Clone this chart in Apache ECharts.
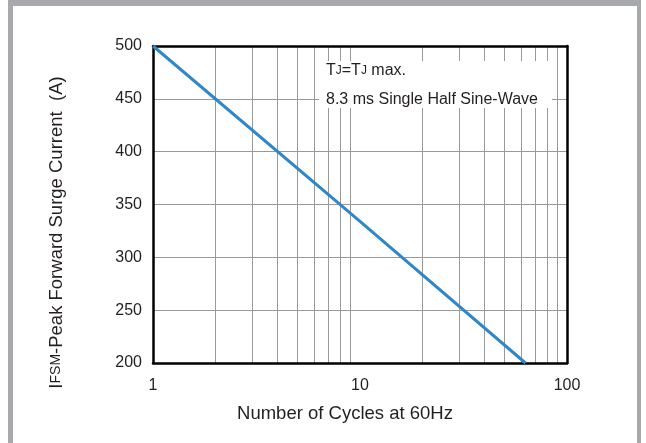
<!DOCTYPE html>
<html>
<head>
<meta charset="utf-8">
<script src="https://cdn.jsdelivr.net/npm/echarts@6/dist/echarts.min.js"></script>
<style>
  html, body { margin: 0; padding: 0; background: #fff; }
  #main { width: 646px; height: 443px; }
</style>
</head>
<body>
<div id="main"></div>
<script>
// surge current vs number of cycles (log x)
var cycles = [1, 10, 63];
var current = [500, 334, 200];
var xTicks = [1, 10, 100];
var yTicks = [200, 250, 300, 350, 400, 450, 500];

var chart = echarts.init(document.getElementById('main'));
var frame = '#a7a9ac';
var ink = '#231f20';

var points = cycles.map(function (c, i) { return [c, current[i]]; });

var option = {
  backgroundColor: '#fff',
  animation: false,
  grid: { left: 153, right: 79, top: 46, bottom: 80 },
  xAxis: [{
    type: 'log',
    logBase: 10,
    min: xTicks[0],
    max: xTicks[xTicks.length - 1],
    axisLine: { show: true, onZero: false, lineStyle: { color: '#000', width: 2.5 } },
    axisTick: { show: false },
    axisLabel: { color: ink, fontSize: 16, fontFamily: 'Liberation Sans', margin: 15 },
    splitLine: { show: false },
    minorTick: { show: false, splitNumber: 9 },
    minorSplitLine: { show: true, lineStyle: { color: '#999', width: 1 } },
    name: 'Number of Cycles at 60Hz',
    nameLocation: 'middle',
    nameGap: 41,
    nameTextStyle: { color: ink, fontSize: 18.5, fontFamily: 'Liberation Sans', padding: [0, 30, 0, 0] }
  }, {
    type: 'log',
    position: 'top',
    min: xTicks[0],
    max: xTicks[xTicks.length - 1],
    axisLine: { show: true, onZero: false, lineStyle: { color: '#000', width: 2.5 } },
    axisTick: { show: false },
    axisLabel: { show: false },
    splitLine: { show: false }
  }],
  yAxis: [{
    type: 'value',
    min: yTicks[0],
    max: yTicks[yTicks.length - 1],
    interval: 50,
    axisLine: { show: true, onZero: false, lineStyle: { color: '#000', width: 2.5 } },
    axisTick: { show: false },
    axisLabel: { color: ink, fontSize: 16, fontFamily: 'Liberation Sans', margin: 11 },
    splitLine: { show: true, showMinLine: false, showMaxLine: false, lineStyle: { color: '#999', width: 1 } },
    name: '{b|I}{s|FSM}{b|-Peak Forward Surge Current  (A)}',
    nameLocation: 'middle',
    nameGap: 87,
    nameRotate: 90,
    nameTextStyle: {
      color: ink,
      fontFamily: 'Liberation Sans',
      padding: [0, 56, 0, 0],
      rich: {
        b: { fontSize: 18.5, color: ink, fontFamily: 'Liberation Sans' },
        s: { fontSize: 14, color: ink, fontFamily: 'Liberation Sans' }
      }
    }
  }, {
    type: 'value',
    position: 'right',
    min: yTicks[0],
    max: yTicks[yTicks.length - 1],
    interval: 50,
    axisLine: { show: true, onZero: false, lineStyle: { color: '#000', width: 2.5 } },
    axisTick: { show: false },
    axisLabel: { show: false },
    splitLine: { show: false }
  }],
  series: [{
    type: 'line',
    data: points,
    symbol: 'none',
    lineStyle: { color: '#2f87c9', width: 3 },
    z: 5
  }],
  graphic: [
    { type: 'rect', shape: { x: 8, y: 0, width: 5, height: 443 }, style: { fill: frame }, z: 200 },
    { type: 'rect', shape: { x: 637, y: 0, width: 4, height: 443 }, style: { fill: frame }, z: 200 },
    { type: 'rect', shape: { x: 8, y: 0, width: 633, height: 6 }, style: { fill: frame }, z: 200 },
    { type: 'rect', shape: { x: 319, y: 61, width: 233, height: 47 }, style: { fill: '#fff' }, z: 100 },
    {
      type: 'text', left: 326, top: 63, z: 101,
      style: {
        text: '{b|T}{s|J}{b|=T}{s|J}{b| max.}',
        rich: {
          b: { fontSize: 16, fill: ink, fontFamily: 'Liberation Sans' },
          s: { fontSize: 12, fill: ink, fontFamily: 'Liberation Sans' }
        }
      }
    },
    {
      type: 'text', left: 326, top: 92, z: 101,
      style: { text: '8.3 ms Single Half Sine-Wave', fontSize: 16, fill: ink, fontFamily: 'Liberation Sans' }
    }
  ]
};

chart.setOption(option);
</script>
</body>
</html>
